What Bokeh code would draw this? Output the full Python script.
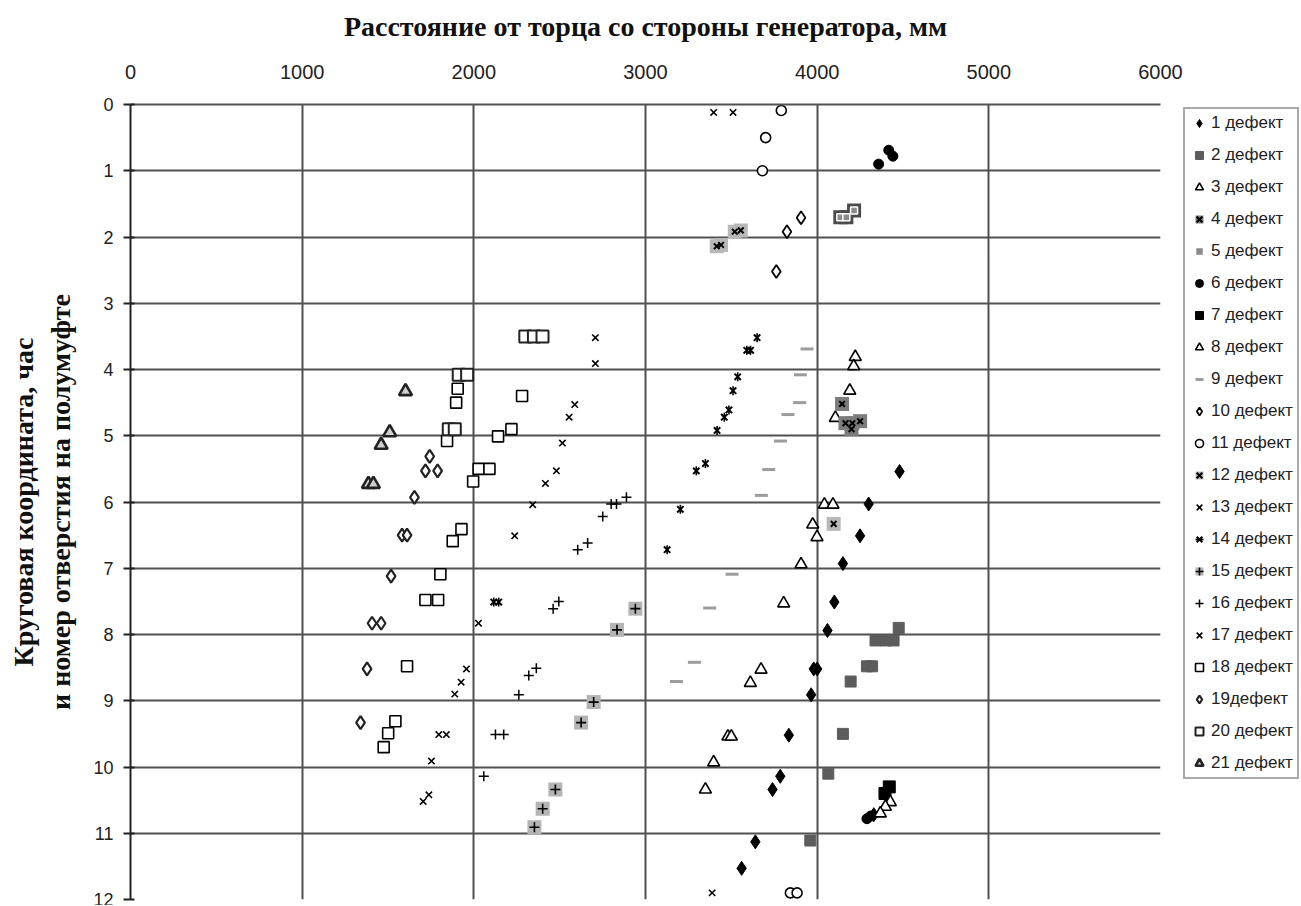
import math
from bokeh.plotting import figure
from bokeh.models import Range1d, FixedTicker, Legend, LegendItem
from bokeh.embed import file_html
from bokeh.resources import INLINE

# ---------------- data ----------------
x_ticks = [0, 1000, 2000, 3000, 4000, 5000, 6000]
y_ticks = list(range(0, 13))
x_title = "Расстояние от торца со стороны генератора, мм"
y_title_1 = "Круговая координата, час"
y_title_2 = "и номер отверстия на полумуфте"

labels = ["1 дефект", "2 дефект", "3 дефект", "4 дефект", "5 дефект", "6 дефект",
          "7 дефект", "8 дефект", "9 дефект", "10 дефект", "11 дефект", "12 дефект",
          "13 дефект", "14 дефект", "15 дефект", "16 дефект", "17 дефект", "18 дефект",
          "19дефект", "20 дефект", "21 дефект"]

d1_x = [4480, 4300, 4250, 4150, 4100, 4060, 3980, 4000, 3965, 3835, 3785, 3740, 3640, 3560, 4330]
d1_y = [5.54, 6.03, 6.51, 6.93, 7.51, 7.94, 8.52, 8.52, 8.91, 9.52, 10.14, 10.34, 11.13, 11.53, 10.72]

d2_x = [4475, 4340, 4400, 4445, 4290, 4320, 4195, 4150, 4065, 3960]
d2_y = [7.9, 8.09, 8.09, 8.09, 8.48, 8.48, 8.71, 9.5, 10.1, 11.11]

d3_x = [4222, 4213, 4190, 4106, 4042, 4092, 3974, 3999, 3906]
d3_y = [3.81, 3.95, 4.32, 4.73, 6.04, 6.04, 6.34, 6.53, 6.94]

d4_x = [4145, 4165, 4205, 4250, 4200]
d4_y = [4.52, 4.81, 4.81, 4.78, 4.9]

d5_x = [4135, 4170, 4215]
d5_y = [1.7, 1.7, 1.6]

d6_x = [4358, 4417, 4441, 4290, 4312]
d6_y = [0.9, 0.69, 0.78, 10.78, 10.74]

d7_x = [4420, 4395]
d7_y = [10.3, 10.4]

d8_x = [3805, 3673, 3611, 3480, 3500, 3397, 3349, 4426, 4397, 4368]
d8_y = [7.53, 8.53, 8.73, 9.54, 9.54, 9.93, 10.34, 10.53, 10.6, 10.7]

d9_x = [3941, 3902, 3898, 3830, 3786, 3718, 3675, 3504, 3374, 3285, 3180]
d9_y = [3.69, 4.08, 4.5, 4.68, 5.08, 5.51, 5.9, 7.09, 7.6, 8.42, 8.71]

d10_x = [3906, 3824, 3762]
d10_y = [1.71, 1.92, 2.52]

d11_x = [3791, 3700, 3681, 3844, 3883]
d11_y = [0.09, 0.5, 1.0, 11.9, 11.9]

d12_x = [3520, 3555, 3415, 3440, 4096]
d12_y = [1.92, 1.9, 2.14, 2.12, 6.33]

d13_x = [3397, 3510, 2708, 2708, 2588, 2555, 2516, 2481, 2417, 2343, 2238]
d13_y = [0.12, 0.12, 3.52, 3.91, 4.53, 4.72, 5.11, 5.53, 5.72, 6.04, 6.51]

d14_x = [3650, 3590, 3612, 3537, 3510, 3486, 3459, 3417, 3349, 3296, 3203, 3126, 2116, 2145]
d14_y = [3.52, 3.71, 3.71, 4.11, 4.32, 4.61, 4.72, 4.92, 5.42, 5.53, 6.11, 6.72, 7.51, 7.51]

d15_x = [2941, 2834, 2698, 2625, 2475, 2401, 2353]
d15_y = [7.61, 7.93, 9.02, 9.33, 10.34, 10.63, 10.91]

d16_x = [2889, 2800, 2831, 2751, 2663, 2605, 2495, 2462, 2364, 2320, 2262, 2126, 2174, 2058]
d16_y = [5.93, 6.03, 6.03, 6.22, 6.62, 6.72, 7.5, 7.61, 8.51, 8.62, 8.91, 9.51, 9.51, 10.14]

d17_x = [2027, 1957, 1926, 1889, 1796, 1840, 1753, 1738, 1705, 3388]
d17_y = [7.83, 8.52, 8.72, 8.9, 9.51, 9.51, 9.91, 10.42, 10.52, 11.9]

d18_x = [1906, 1897, 2281, 1844, 2219, 2141, 2028, 2091, 1996, 1928, 1877, 1805, 1718, 1792,
         1611, 1543, 1501, 1475]
d18_y = [4.29, 4.5, 4.4, 5.08, 4.9, 5.01, 5.5, 5.5, 5.69, 6.41, 6.59, 7.09, 7.48, 7.48,
         8.48, 9.31, 9.49, 9.7]

d19_x = [1743, 1718, 1789, 1654, 1582, 1611, 1518, 1407, 1460, 1378, 1340]
d19_y = [5.31, 5.53, 5.53, 5.93, 6.5, 6.5, 7.12, 7.83, 7.83, 8.52, 9.33]

d20_x = [2300, 2350, 2400, 1912, 1961, 1854, 1889]
d20_y = [3.5, 3.5, 3.5, 4.08, 4.08, 4.9, 4.9]

d21_x = [1602, 1510, 1460, 1386, 1415]
d21_y = [4.33, 4.95, 5.14, 5.73, 5.73]

series_x = [d1_x, d2_x, d3_x, d4_x, d5_x, d6_x, d7_x, d8_x, d9_x, d10_x, d11_x,
            d12_x, d13_x, d14_x, d15_x, d16_x, d17_x, d18_x, d19_x, d20_x, d21_x]
series_y = [d1_y, d2_y, d3_y, d4_y, d5_y, d6_y, d7_y, d8_y, d9_y, d10_y, d11_y,
            d12_y, d13_y, d14_y, d15_y, d16_y, d17_y, d18_y, d19_y, d20_y, d21_y]

# ---------------- styles ----------------
def M(marker, size, fill=None, line="black", lw=1.5, angle=0.0):
    return dict(marker=marker, size=size, fill_color=fill, line_color=line,
                line_width=lw, angle=angle)

styles = [
    [M("diamond", 14, "black", "black", 1)],                                   # 1
    [M("square", 11, "#5c5c5c", "#5c5c5c", 1)],                                # 2
    [M("triangle", 12, "white", "black", 1.6)],                                # 3
    [M("square", 14, "#7c7c7c", None, 0), M("x", 8, None, "black", 2)],        # 4
    [M("square", 14, "#4a4a4a", None, 0), M("square", 7, "#8a8a8a", "white", 1.5)],  # 5
    [M("circle", 10, "black", "black", 1)],                                    # 6
    [M("square", 12, "black", "black", 1)],                                    # 7
    [M("triangle", 12, "white", "black", 1.6)],                                # 8
    [M("dash", 13, None, "#9c9c9c", 3)],                                       # 9
    [M("diamond", 13, "white", "black", 1.8)],                                 # 10
    [M("circle", 10, "white", "black", 1.6)],                                  # 11
    [M("square", 14, "#b8b8b8", None, 0), M("x", 8, None, "black", 2)],        # 12
    [M("x", 9, None, "black", 1.6)],                                           # 13
    [M("x", 9, None, "black", 2), M("dash", 9, None, "black", 1.6, math.pi / 2)],  # 14
    [M("square", 14, "#b4b4b4", None, 0), M("cross", 10, None, "black", 1.6)],  # 15
    [M("cross", 10, None, "black", 1.5)],                                      # 16
    [M("x", 9, None, "black", 1.6)],                                           # 17
    [M("square", 11, "white", "black", 1.6)],                                  # 18
    [M("diamond", 13, "white", "#222222", 2.2)],                               # 19
    [M("square", 12, "white", "#222222", 2.0)],                                # 20
    [M("triangle", 13, "#cfcfcf", "#222222", 2.6)],                            # 21
]

# ---------------- figure ----------------
p = figure(frame_width=1030, frame_height=795,
           x_range=Range1d(0, 6000), y_range=Range1d(12, 0),
           x_axis_location="above", output_backend="svg", toolbar_location=None,
           min_border_left=130, min_border_top=104, min_border_bottom=6,
           min_border_right=140, background_fill_color="white",
           border_fill_color="white")
p.outline_line_color = None

grid_col = "#505050"
p.xgrid.ticker = FixedTicker(ticks=x_ticks)
p.ygrid.ticker = FixedTicker(ticks=y_ticks)
p.xgrid.grid_line_color = grid_col
p.ygrid.grid_line_color = grid_col
p.xgrid.grid_line_width = 2
p.ygrid.grid_line_width = 2

xa = p.xaxis[0]
xa.ticker = FixedTicker(ticks=x_ticks)
xa.axis_line_color = grid_col
xa.axis_line_width = 2
xa.major_tick_line_color = None
xa.major_tick_out = 0
xa.major_tick_in = 0
xa.minor_tick_line_color = None
xa.major_label_text_font = "Liberation Sans"
xa.major_label_text_font_size = "20px"
xa.major_label_text_color = "#222222"
xa.major_label_standoff = 26
xa.axis_label = x_title
xa.axis_label_text_font = "Liberation Serif"
xa.axis_label_text_font_style = "bold"
xa.axis_label_text_font_size = "28px"
xa.axis_label_text_color = "#111111"
xa.axis_label_standoff = 20

ya = p.yaxis[0]
ya.ticker = FixedTicker(ticks=y_ticks)
ya.axis_line_color = "#222222"
ya.axis_line_width = 2
ya.major_tick_line_color = "#222222"
ya.major_tick_line_width = 2
ya.major_tick_out = 7
ya.major_tick_in = 4
ya.minor_tick_line_color = None
ya.major_label_text_font = "Liberation Sans"
ya.major_label_text_font_size = "18px"
ya.major_label_text_color = "#222222"
ya.major_label_standoff = 10
ya.axis_label = y_title_1 + "\n" + y_title_2
ya.axis_label_text_font = "Liberation Serif"
ya.axis_label_text_font_style = "bold"
ya.axis_label_text_font_size = "28px"
ya.axis_label_text_color = "#111111"
ya.axis_label_standoff = 14

items = []
for i in range(len(labels)):
    rs = []
    for st in styles[i]:
        r = p.scatter(series_x[i], series_y[i], **st)
        rs.append(r)
    items.append(LegendItem(label=labels[i], renderers=rs))

legend = Legend(items=items, location=(23, 120), margin=0, padding=4,
                glyph_width=20, glyph_height=20, label_height=20, label_standoff=2,
                spacing=12, label_text_font="Liberation Sans",
                label_text_font_size="17px", label_text_color="#222222",
                border_line_color="#555555", border_line_width=2,
                background_fill_color="white")
p.add_layout(legend, "right")

open("out.html", "w").write(file_html(p, INLINE))
